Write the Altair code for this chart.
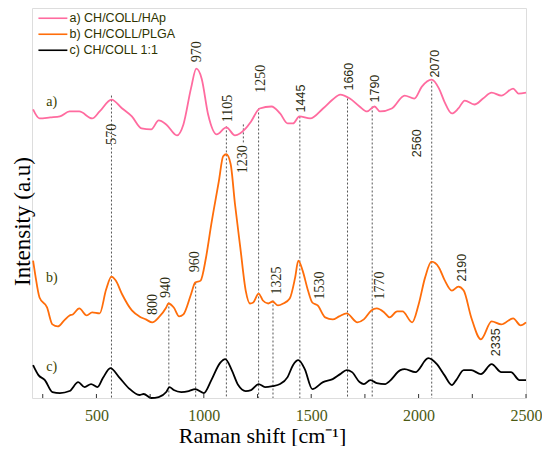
import altair as alt
import pandas as pd

# ---- data ----
series_names = ["a) CH/COLL/HAp", "b) CH/COLL/PLGA", "c) CH/COLL 1:1"]
series_colors = ["#ff6b9f", "#ff6d0a", "#000000"]

wn_a = [205, 235, 285, 330, 375, 420, 480, 515, 570, 620, 665, 710, 755, 790, 825, 875, 905, 940, 965, 990,
        1020, 1060, 1105, 1145, 1195, 1220, 1260, 1315, 1355, 1390, 1415, 1445, 1495, 1555, 1600, 1635, 1680,
        1725, 1760, 1795, 1820, 1875, 1935, 1980, 2015, 2060, 2095, 2120, 2155, 2185, 2215, 2260, 2300, 2340,
        2385, 2440, 2465, 2500]
int_a = [290, 281, 282, 283, 288, 288, 281, 288, 300, 291, 283, 271, 270, 279, 275, 264, 275, 311, 331, 321,
         285, 265, 272, 264, 271, 278, 291, 293, 286, 276, 276, 283, 281, 291, 300, 305, 301,
         293, 288, 293, 288, 291, 304, 301, 313, 320, 311, 298, 286, 291, 299, 295, 301, 307,
         304, 311, 306, 307]

wn_b = [205, 215, 235, 270, 295, 320, 350, 375, 390, 420, 455, 480, 515, 545, 570, 590, 620, 665, 700, 730,
        760, 790, 825, 835, 860, 885, 905, 940, 960, 985, 1010, 1035, 1070, 1090, 1105, 1125, 1145, 1170,
        1195, 1215, 1230, 1255, 1275, 1300, 1320, 1345, 1370, 1400, 1425, 1440, 1460, 1485, 1505, 1530,
        1565, 1600, 1630, 1665, 1715, 1745, 1780, 1805, 1840, 1865, 1900, 1925, 1970, 2000, 2030, 2060,
        2095, 2120, 2155, 2185, 2210, 2245, 2290, 2340, 2385, 2440, 2475, 2500]
int_b = [138, 124, 101, 91, 74, 72, 78, 83, 84, 90, 83, 86, 85, 109, 122, 118, 104, 88, 82, 79,
         76, 81, 91, 95, 91, 82, 84, 104, 116, 118, 141, 175, 218, 243, 245, 235, 195, 151,
         108, 95, 96, 105, 98, 95, 97, 93, 95, 100, 121, 138, 128, 108, 96, 93,
         81, 79, 82, 85, 76, 79, 88, 90, 86, 81, 87, 87, 76, 94, 121, 137,
         131, 119, 108, 112, 108, 81, 59, 77, 74, 80, 73, 76]

wn_c = [205, 230, 260, 295, 330, 375, 415, 445, 475, 505, 530, 565, 605, 650, 700, 720, 755, 790, 825, 840,
        860, 895, 930, 960, 1000, 1035, 1075, 1100, 1130, 1160, 1195, 1220, 1255, 1285, 1320, 1355, 1390,
        1415, 1440, 1470, 1505, 1555, 1600, 1635, 1665, 1690, 1725, 1745, 1775, 1805, 1845, 1865, 1915,
        1935, 1985, 2045, 2085, 2120, 2155, 2175, 2210, 2245, 2290, 2340, 2385, 2430, 2470, 2500]
int_c = [33, 23, 18, 6, 5, 7, 16, 11, 14, 11, 20, 30, 21, 10, 3, 4, 0, 1, 6, 11,
         8, 6, 7, 9, 5, 18, 35, 39, 28, 13, 7, 8, 14, 11, 12, 14, 21,
         33, 38, 29, 9, 16, 19, 24, 28, 26, 16, 14, 18, 15, 14, 17, 28,
         29, 26, 40, 34, 23, 13, 18, 28, 28, 24, 34, 26, 26, 18, 18]

# dotted marker lines: position, top and bottom intensity
rule_wn = [570, 837, 962, 1105, 1184, 1255, 1322, 1447, 1669, 1784, 2061]
rule_top = [304, 96, 116, 273, 275, 291, 98, 283, 301, 293, 318]
rule_bot = [0, 0, 0, 0, 255, 0, 0, 0, 0, 0, 0]

# peak labels (serif set and sans set): text, position, intensity
serif_txt = ["570", "970", "1105", "1230", "1250", "800", "940", "960", "1325", "1530", "1770"]
serif_wn = [571, 966, 1114, 1184, 1267, 763, 823, 957, 1341, 1539, 1821]
serif_int = [265, 348, 291, 240, 321, 94, 111, 137, 118, 113, 113]

sans_txt = ["1445", "1660", "1790", "2070", "2560", "2190", "2335"]
sans_wn = [1451, 1678, 1798, 2075, 1992, 2200, 2361]
sans_int = [301, 323, 311, 336, 256, 131, 56]

tag_txt = ["a)", "b)", "c)"]
tag_wn = [292, 292, 292]
tag_int = [298, 121, 31]

tick_wn = [250, 500, 750, 1000, 1250, 1500, 1750, 2000, 2250, 2500]
label_ticks = [500, 1000, 1500, 2000, 2500]

# ---- tables ----
rows = []
for name, w, v in zip(series_names, [wn_a, wn_b, wn_c], [int_a, int_b, int_c]):
    for a, b in zip(w, v):
        rows.append({"wn": a, "inten": b, "series": name})
curves = pd.DataFrame(rows)
rules = pd.DataFrame({"wn": rule_wn, "top": rule_top, "bot": rule_bot})
serif_df = pd.DataFrame({"t": serif_txt, "wn": serif_wn, "inten": serif_int})
sans_df = pd.DataFrame({"t": sans_txt, "wn": sans_wn, "inten": sans_int})
tag_df = pd.DataFrame({"t": tag_txt, "wn": tag_wn, "inten": tag_int})
tick_df = pd.DataFrame({"wn": tick_wn})

W, H = 494, 390
xscale = alt.Scale(domain=[200, 2500], nice=False, zero=False)
yscale = alt.Scale(domain=[0, 392], nice=False, zero=True)

X = alt.X("wn:Q", scale=xscale,
          axis=alt.Axis(title="Raman shift [cm⁻¹]", values=label_ticks, format="d", ticks=False,
                        domain=False, grid=False, labelFont="Liberation Serif", labelFontSize=16,
                        labelColor="#4b5a14", labelPadding=9, labelFlush=False,
                        titleFont="Liberation Serif", titleFontSize=22, titleFontWeight="normal",
                        titleColor="#000000", titleX=230, titleY=44, titleBaseline="alphabetic",
                        titleAlign="center"))
Y = alt.Y("inten:Q", scale=yscale,
          axis=alt.Axis(title="Intensity (a.u)", labels=False, ticks=False, domain=False, grid=False,
                        titleFont="Liberation Serif", titleFontSize=23, titleFontWeight="normal",
                        titleColor="#000000", titleX=-3, titleY=213, titleAngle=270,
                        titleBaseline="alphabetic", titleAlign="center"))

rule_layer = alt.Chart(rules).mark_rule(color="#555555", strokeDash=[2, 2], strokeWidth=1).encode(
    x=alt.X("wn:Q", scale=xscale), y=alt.Y("top:Q", scale=yscale), y2="bot:Q")

line_layer = alt.Chart(curves).mark_line(interpolate="monotone", strokeWidth=1.8).encode(
    x=X, y=Y,
    color=alt.Color("series:N",
                    scale=alt.Scale(domain=series_names, range=series_colors),
                    legend=alt.Legend(title=None, orient="none", legendX=5, legendY=4,
                                      symbolType="M-1,0H5", symbolSize=93, symbolStrokeWidth=1.6,
                                      labelFont="Liberation Sans", labelFontSize=12.5,
                                      labelColor="#2e3300", labelOffset=20, rowPadding=3,
                                      padding=0)),
    order=alt.Order("series:N"))

serif_layer = alt.Chart(serif_df).mark_text(angle=270, font="Liberation Serif", fontSize=14,
                                            color="#2b2b10", align="center", baseline="middle").encode(
    x=alt.X("wn:Q", scale=xscale), y=alt.Y("inten:Q", scale=yscale), text="t:N")

sans_layer = alt.Chart(sans_df).mark_text(angle=270, font="Liberation Sans", fontSize=12.5,
                                          color="#2b2b10", align="center", baseline="middle").encode(
    x=alt.X("wn:Q", scale=xscale), y=alt.Y("inten:Q", scale=yscale), text="t:N")

tag_layer = alt.Chart(tag_df).mark_text(font="Liberation Serif", fontSize=14, color="#3a4200",
                                        align="center", baseline="middle").encode(
    x=alt.X("wn:Q", scale=xscale), y=alt.Y("inten:Q", scale=yscale), text="t:N")

tick_layer = alt.Chart(tick_df).mark_rule(color="#333333", strokeWidth=1).encode(
    x=alt.X("wn:Q", scale=xscale), y=alt.value(H - 4), y2=alt.value(H))

chart = alt.layer(rule_layer, line_layer, serif_layer, sans_layer, tag_layer, tick_layer).properties(
    width=W, height=H,
    autosize=alt.AutoSizeParams(type="none"),
    padding={"left": 24, "top": 0, "right": 16, "bottom": 48},
).configure_view(stroke="#333333", strokeWidth=1.5).configure(background="white")

chart.save("out.html", embed_options={"renderer": "svg", "actions": False})
